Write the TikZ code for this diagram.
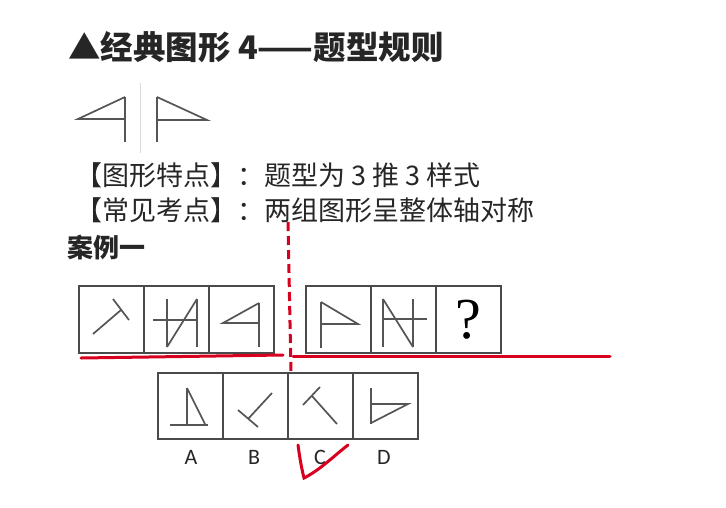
\documentclass[tikz,border=0pt]{standalone}
\usepackage{fontspec}
\setmainfont{Liberation Serif}
\newfontfamily\cjk{Noto Sans CJK SC}
\newfontfamily\lab{Carlito}
\definecolor{boxc}{HTML}{4A4A4A}
\definecolor{figc}{HTML}{555555}
\definecolor{redc}{HTML}{D7001E}
\definecolor{txtc}{HTML}{262626}
\tikzset{
  pbox/.style={draw=boxc, line width=1.8pt, minimum width=65pt, minimum height=67pt, inner sep=0pt, outer sep=0pt},
  obox/.style={draw=boxc, line width=1.8pt, minimum width=65pt, minimum height=66pt, inner sep=0pt, outer sep=0pt},
  fig/.style={draw=figc, line width=1.7pt},
  redl/.style={draw=redc, line width=3pt, line cap=round},
  txt/.style={anchor=west, inner sep=0pt, text=txtc},
  optlab/.style={inner sep=0pt, text=txtc, font=\lab\fontsize{22}{22}\selectfont},
}
\begin{document}
\begin{tikzpicture}[x=1pt, y=-1pt]
\useasboundingbox (0,0) rectangle (726,507);
% title and text
\node[txt, font=\cjk\bfseries\fontsize{32.5}{32.5}\selectfont] (title) at (68,47) {▲经典图形 4——题型规则};
\node[txt, font=\cjk\fontsize{27}{27}\selectfont] (l1) at (75,175) {【图形特点】：题型为 3 推 3 样式};
\node[txt, font=\cjk\fontsize{27}{27}\selectfont] (l2) at (75,210) {【常见考点】：两组图形呈整体轴对称};
\node[txt, font=\cjk\bfseries\fontsize{26}{26}\selectfont] (case) at (67,247) {案例一};
% icons
\draw[draw=black!15, line width=1pt] (140,83) -- (140,153);
\draw[fig] (125,97) -- (125,142);
\draw[fig] (125,97) -- (78,119) -- (125,119);
\draw[fig] (157,97) -- (157,142);
\draw[fig] (157,97) -- (207,120) -- (157,120);
% top row boxes
\node[pbox] (p1) at (111.5,319.5) {};
\node[pbox] (p2) at (176.5,319.5) {};
\node[pbox] (p3) at (241.5,319.5) {};
\node[pbox] (p4) at (338.5,319.5) {};
\node[pbox] (p5) at (403.5,319.5) {};
\node[pbox] (p6) at (468.5,319.5) {};
\node[inner sep=0pt, font=\fontsize{58}{58}\selectfont, text=black] (q) at (p6.center) {?};
% figures in top row
\draw[fig] (93,334) -- (121,310);
\draw[fig] (113,299) -- (129,320);
\draw[fig] (197,299) -- (197,347);
\draw[fig] (197,299) -- (167,347);
\draw[fig] (167,299) -- (167,347);
\draw[fig] (153,320) -- (198,320);
\draw[fig] (259,303) -- (259,347);
\draw[fig] (259,303) -- (223,323) -- (259,323);
\draw[fig] (321,302) -- (321,348);
\draw[fig] (321,302) -- (358,324) -- (321,324);
\draw[fig] (383,299) -- (383,347);
\draw[fig] (383,299) -- (413,347);
\draw[fig] (413,299) -- (413,347);
\draw[fig] (383,319) -- (427,319);
% option boxes
\node[obox] (oA) at (190.5,406) {};
\node[obox] (oB) at (255.5,406) {};
\node[obox] (oC) at (320.5,406) {};
\node[obox] (oD) at (385.5,406) {};
\draw[fig] (187,388) -- (187,424);
\draw[fig] (187,388) -- (205,424);
\draw[fig] (170,425) -- (208,425);
\draw[fig] (238,410) -- (258,427);
\draw[fig] (248,419) -- (272,393);
\draw[fig] (303,405) -- (320,387);
\draw[fig] (312,396) -- (337,424);
\draw[fig] (371,388) -- (371,424);
\draw[fig] (371,404) -- (408,404) -- (371,423);
% labels
\node[optlab] (lA) at (191,457) {A};
\node[optlab] (lB) at (254,457) {B};
\node[optlab] (lC) at (320,457) {C};
\node[optlab] (lD) at (384,457) {D};
% red annotations
\coordinate (d1) at (288,222);
\coordinate (d2) at (291,373);
\draw[redl, line cap=butt, dash pattern=on 9pt off 5pt] (d1) -- (d2);
\coordinate (u1) at (81,358);
\coordinate (u2) at (283,355);
\draw[redl] (u1) -- (u2);
\coordinate (v1) at (293,356);
\coordinate (v2) at (610,356);
\draw[redl] (v1) -- (v2);
\coordinate (c1) at (298,445);
\coordinate (c2) at (304,478);
\coordinate (c3) at (348,445);
\draw[redl] (c1) .. controls (300,460) and (302,470) .. (c2) .. controls (320,470) and (335,455) .. (c3);
\end{tikzpicture}
\end{document}
